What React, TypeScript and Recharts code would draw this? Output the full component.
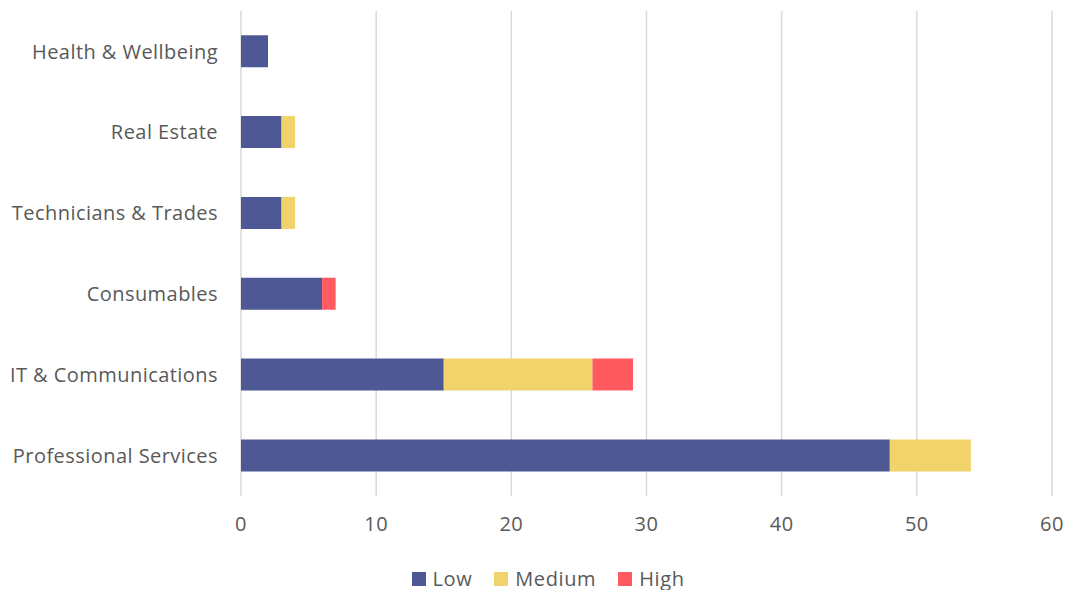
import React from 'react';
import { BarChart, Bar, XAxis, YAxis, CartesianGrid, Legend } from 'recharts';

const categories = ['Health & Wellbeing', 'Real Estate', 'Technicians & Trades', 'Consumables', 'IT & Communications', 'Professional Services'];
const low = [2, 3, 3, 6, 15, 48];
const medium = [0, 1, 1, 0, 11, 6];
const high = [0, 0, 0, 1, 3, 0];
const xTicks = [0, 10, 20, 30, 40, 50, 60];
const seriesNames = ['Low', 'Medium', 'High'];
const seriesColors = ['#4E5894', '#F0D36A', '#FF5A5F'];

const data = categories.map((name, i) => ({ name, Low: low[i], Medium: medium[i], High: high[i] }));

const FONT = '"Open Sans", sans-serif';
const TEXT = '#595959';

const LegendContent = () => (
  <div style={{ display: 'flex', justifyContent: 'center', alignItems: 'center', fontFamily: FONT, fontSize: 20, color: TEXT, letterSpacing: 0.6, paddingLeft: 44, paddingTop: 5 }}>
    {seriesNames.map((n, i) => (
      <div key={n} style={{ display: 'flex', alignItems: 'center', marginLeft: i === 0 ? 0 : 22 }}>
        <span style={{ display: 'inline-block', width: 14, height: 14, background: seriesColors[i], marginRight: 7 }} />
        <span>{n}</span>
      </div>
    ))}
  </div>
);

export default function App() {
  return (
    <div style={{ position: 'absolute', left: 0, top: 0, width: 1066, height: 590, background: '#fff' }}>
      <BarChart
        width={1066}
        height={590}
        data={data}
        layout="vertical"
        margin={{ top: 11, right: 14, left: 0, bottom: 0 }}
        barCategoryGap="30%"
      >
        <CartesianGrid horizontal={false} vertical={true} stroke="#D9D9D9" strokeWidth={1.5} />
        <XAxis
          type="number"
          domain={[0, 60]}
          ticks={xTicks}
          axisLine={false}
          tickLine={false}
          tickSize={0}
          tickMargin={21}
          height={64}
          tick={{ fill: TEXT, fontSize: 20, fontFamily: FONT, letterSpacing: 0.5 }}
          interval={0}
        />
        <YAxis
          type="category"
          dataKey="name"
          width={241}
          axisLine={false}
          tickLine={false}
          tickSize={0}
          tickMargin={23}
          tick={{ fill: TEXT, fontSize: 20, fontFamily: FONT, letterSpacing: 0.45 }}
          interval={0}
        />
        <Legend verticalAlign="bottom" align="center" height={30} content={<LegendContent />} />
        <Bar dataKey="Low" stackId="a" fill={seriesColors[0]} isAnimationActive={false} />
        <Bar dataKey="Medium" stackId="a" fill={seriesColors[1]} isAnimationActive={false} />
        <Bar dataKey="High" stackId="a" fill={seriesColors[2]} isAnimationActive={false} />
      </BarChart>
    </div>
  );
}
